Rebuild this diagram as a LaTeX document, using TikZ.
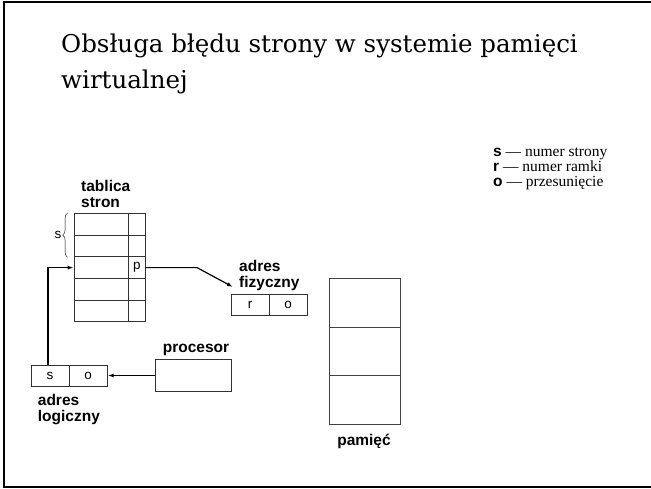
\documentclass[tikz,border=0pt]{standalone}
\usepackage{fontspec}
\setmainfont{Liberation Serif}
\setsansfont{Liberation Sans}
\newfontfamily\titlefont{DejaVu Serif}
\usetikzlibrary{arrows.meta,decorations.pathreplacing}
\begin{document}
\begin{tikzpicture}[x=1pt, y=-1pt, inner sep=0pt, >={Latex[length=6pt,width=4pt]},
      cell/.style={draw=black!80, line width=0.8pt, minimum height=21.7pt, font=\fontsize{13.5}{14}\sffamily},
      lbl/.style={align=left, font=\fontsize{15.5}{16}\sffamily\bfseries},
      title/.style={anchor=base west, font=\fontsize{24.5}{26}\titlefont},
      legend/.style={anchor=base west, font=\fontsize{15.5}{15}\selectfont}]
      \useasboundingbox (0,0) rectangle (651,488);
      \draw[line width=2pt] (651,2) -- (4,2) -- (4,486.5) -- (651,486.5);
      \node[title] (title1) at (61,52) {Obsługa błędu strony w systemie pamięci};
      \node[title] (title2) at (61,88) {wirtualnej};
      % tablica stron
      \node[lbl, anchor=north west] (tab) at (81,180.5) {tablica\\stron};
      \node[cell, minimum width=54.7pt] (s1) at (101.35,224.2) {};
      \node[cell, minimum width=16.3pt] (f1) at (136.85,224.2) {};
      \node[cell, minimum width=54.7pt] (s2) at (101.35,245.9) {};
      \node[cell, minimum width=16.3pt] (f2) at (136.85,245.9) {};
      \node[cell, minimum width=54.7pt] (s3) at (101.35,267.6) {};
      \node[cell, minimum width=16.3pt] (f3) at (136.85,267.6) {p};
      \node[cell, minimum width=54.7pt] (s4) at (101.35,289.3) {};
      \node[cell, minimum width=16.3pt] (f4) at (136.85,289.3) {};
      \node[cell, minimum width=54.7pt] (s5) at (101.35,311.0) {};
      \node[cell, minimum width=16.3pt] (f5) at (136.85,311.0) {};
      \draw[decorate, decoration={brace, amplitude=5pt}] ([xshift=-6pt]s2.south west) -- ([xshift=-6pt]s1.north west)
         node[midway, left=6pt, font=\fontsize{13.5}{14}\sffamily] (sbr) {s};
      % adres fizyczny
      \node[lbl, anchor=north west] (fiz) at (239,260.5) {adres\\fizyczny};
      \node[cell, minimum width=38.3pt, minimum height=21.4pt] (pr) at (250.15,305) {r};
      \node[cell, minimum width=37.7pt, minimum height=21.4pt] (po) at (288.15,305) {o};
      \coordinate (pbend) at (197,267.6);
      \coordinate (ptip) at (233,287);
      \draw[->, line width=1.2pt] (f3.east) -- (pbend) -- (ptip);
      % procesor i adres logiczny
      \node[lbl, anchor=base west] (proclbl) at (162.7,352) {procesor};
      \node[draw=black!80, line width=0.8pt, minimum width=76pt, minimum height=32.4pt] (proc) at (193.7,375.5) {};
      \node[cell, minimum width=38pt, minimum height=21pt] (ls) at (50,375.5) {s};
      \node[cell, minimum width=38.3pt, minimum height=21pt] (lo) at (88.15,375.5) {o};
      \node[lbl, anchor=north west] (log) at (37.7,394) {adres\\logiczny};
      \draw[->, line width=1.2pt] (proc.west) -- (lo.east);
      \draw[->, line width=1.2pt] ([xshift=-2pt]ls.north) |- (s3.west);
      % pamiec
      \node[draw=black!75, line width=0.8pt, minimum width=70.7pt, minimum height=48.7pt] (m1) at (364.65,302.7) {};
      \node[draw=black!75, line width=0.8pt, minimum width=70.7pt, minimum height=48.7pt] (m2) at (364.65,351.4) {};
      \node[draw=black!75, line width=0.8pt, minimum width=70.7pt, minimum height=48.7pt] (m3) at (364.65,400.1) {};
      \node[lbl, anchor=base] (mem) at (364,445) {pamięć};
      % legenda
      \node[legend] (leg1) at (493,156) {\textbf{\sffamily s} — numer strony};
      \node[legend] (leg2) at (493,171) {\textbf{\sffamily r} — numer ramki};
      \node[legend] (leg3) at (493,186) {\textbf{\sffamily o} — przesunięcie};
\end{tikzpicture}
\end{document}
